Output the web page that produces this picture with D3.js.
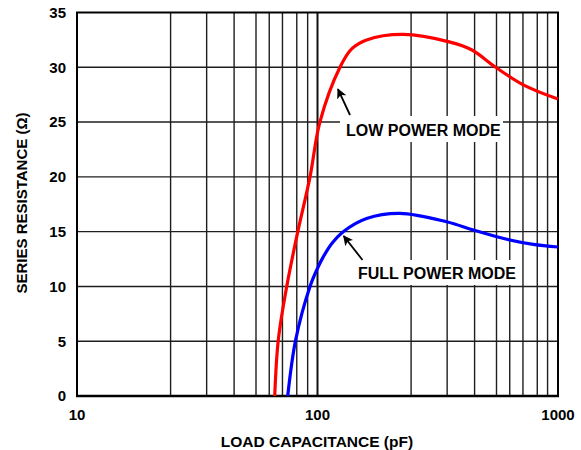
<!DOCTYPE html>
<html>
<head>
<meta charset="utf-8">
<script src="https://cdn.jsdelivr.net/npm/d3@7/dist/d3.min.js"></script>
<style>
  html, body { margin: 0; padding: 0; background: #fff; }
  svg { display: block; font-family: "Liberation Sans", Arial, Helvetica, sans-serif; font-weight: bold; }
</style>
</head>
<body>
<svg id="chart" width="581" height="450"></svg>
<script>
// Series resistance vs. load capacitance, two operating modes
const capLow  = [66.4, 68.7, 74.5, 82.8, 93.1, 102.3, 124, 139, 160, 227, 356, 437, 551, 717, 1000];
const resLow  = [0, 5.1, 10, 15, 20, 25, 30, 31.7, 32.5, 33.0, 32.3, 31.6, 30.0, 28.4, 27.1];

const capFull = [75.2, 81.1, 93.1, 100.7, 105.7, 114.5, 128, 160, 220, 344, 445, 612, 789, 1000];
const resFull = [0, 5.1, 10, 11.8, 12.7, 13.9, 15.0, 16.2, 16.67, 15.9, 15.15, 14.3, 13.84, 13.6];

// Axis ticks and grid
const xTickValues = [10, 100, 1000];
const xTickLabels = ["10", "100", "1000"];
const xGridMinor  = [24.5, 34.6, 45, 55.5, 63, 71.5, 82, 91,
                     245, 346, 450, 555, 630, 715, 820, 905];
const yTickValues = [0, 5, 10, 15, 20, 25, 30, 35];

(function draw() {
  const svg = d3.select("#chart");
  const pLeft = 77, pRight = 558, pTop = 12.5, pBottom = 396;

  const x = d3.scaleLog().domain([10, 1000]).range([pLeft, pRight]);
  const y = d3.scaleLinear().domain([0, 35]).range([pBottom, pTop]);

  const grid = svg.append("g");
  // vertical grid
  grid.selectAll("line.vminor").data(xGridMinor).join("line")
    .attr("x1", d => x(d)).attr("x2", d => x(d))
    .attr("y1", pTop).attr("y2", pBottom)
    .attr("stroke", "#1e1e1e").attr("stroke-width", 1.4);
  grid.append("line")
    .attr("x1", x(100)).attr("x2", x(100)).attr("y1", pTop).attr("y2", pBottom)
    .attr("stroke", "#111").attr("stroke-width", 2);
  // horizontal grid
  grid.selectAll("line.h").data(yTickValues.slice(1, -1)).join("line")
    .attr("x1", pLeft).attr("x2", pRight)
    .attr("y1", d => y(d)).attr("y2", d => y(d))
    .attr("stroke", "#1e1e1e").attr("stroke-width", 1.4);

  // annotation boxes clear the grid behind the mode labels
  const notes = [
    { text: "LOW POWER MODE",  tx: 346, ty: 135.5, box: [340, 116, 163, 26], tip: [121.6, 28.0], tail: [350, 115] },
    { text: "FULL POWER MODE", tx: 358, ty: 279,   box: [352, 260, 168, 25], tip: [128.5, 14.6], tail: [362.5, 260] }
  ];
  svg.selectAll("rect.note").data(notes).join("rect")
    .attr("x", d => d.box[0]).attr("y", d => d.box[1])
    .attr("width", d => d.box[2]).attr("height", d => d.box[3])
    .attr("fill", "#fff");

  // frame
  svg.append("rect")
    .attr("x", pLeft).attr("y", pTop)
    .attr("width", pRight - pLeft).attr("height", pBottom - pTop)
    .attr("fill", "none").attr("stroke", "#000").attr("stroke-width", 2);
  svg.append("line")
    .attr("x1", pLeft - 1).attr("x2", pRight + 1).attr("y1", pBottom).attr("y2", pBottom)
    .attr("stroke", "#000").attr("stroke-width", 2.6);

  // curves
  const line = d3.line()
    .x(d => x(d[0])).y(d => y(d[1]))
    .curve(d3.curveCatmullRom.alpha(0.5));

  svg.append("path")
    .datum(capLow.map((c, i) => [c, resLow[i]]))
    .attr("d", line).attr("fill", "none")
    .attr("stroke", "#ff0000").attr("stroke-width", 3.2)
    .attr("stroke-linejoin", "round");

  svg.append("path")
    .datum(capFull.map((c, i) => [c, resFull[i]]))
    .attr("d", line).attr("fill", "none")
    .attr("stroke", "#0000ff").attr("stroke-width", 3.2)
    .attr("stroke-linejoin", "round");

  // arrows and labels
  svg.append("defs").append("marker")
    .attr("id", "head").attr("viewBox", "0 0 10 10")
    .attr("refX", 9).attr("refY", 5)
    .attr("markerWidth", 10).attr("markerHeight", 10)
    .attr("markerUnits", "userSpaceOnUse")
    .attr("orient", "auto")
    .append("path").attr("d", "M0,0 L10,5 L0,10 L2.5,5 Z").attr("fill", "#000");

  svg.selectAll("line.arrow").data(notes).join("line")
    .attr("x1", d => d.tail[0]).attr("y1", d => d.tail[1])
    .attr("x2", d => x(d.tip[0])).attr("y2", d => y(d.tip[1]))
    .attr("stroke", "#000").attr("stroke-width", 1.8)
    .attr("marker-end", "url(#head)");

  svg.selectAll("text.note").data(notes).join("text")
    .attr("x", d => d.tx).attr("y", d => d.ty)
    .attr("font-size", 16).attr("fill", "#000")
    .text(d => d.text);

  // tick labels
  svg.selectAll("text.xt").data(xTickValues).join("text")
    .attr("x", d => x(d)).attr("y", 420)
    .attr("text-anchor", "middle").attr("font-size", 15)
    .text((d, i) => xTickLabels[i]);

  svg.selectAll("text.yt").data(yTickValues).join("text")
    .attr("x", 66).attr("y", d => y(d) + 5.3)
    .attr("text-anchor", "end").attr("font-size", 15)
    .text(d => d);

  // axis titles
  svg.append("text")
    .attr("x", 317).attr("y", 447)
    .attr("text-anchor", "middle").attr("font-size", 15.5)
    .text("LOAD CAPACITANCE (pF)");

  svg.append("text")
    .attr("transform", "translate(26.5,203) rotate(-90)")
    .attr("text-anchor", "middle").attr("font-size", 15)
    .text("SERIES RESISTANCE (Ω)");
})();
</script>
</body>
</html>
